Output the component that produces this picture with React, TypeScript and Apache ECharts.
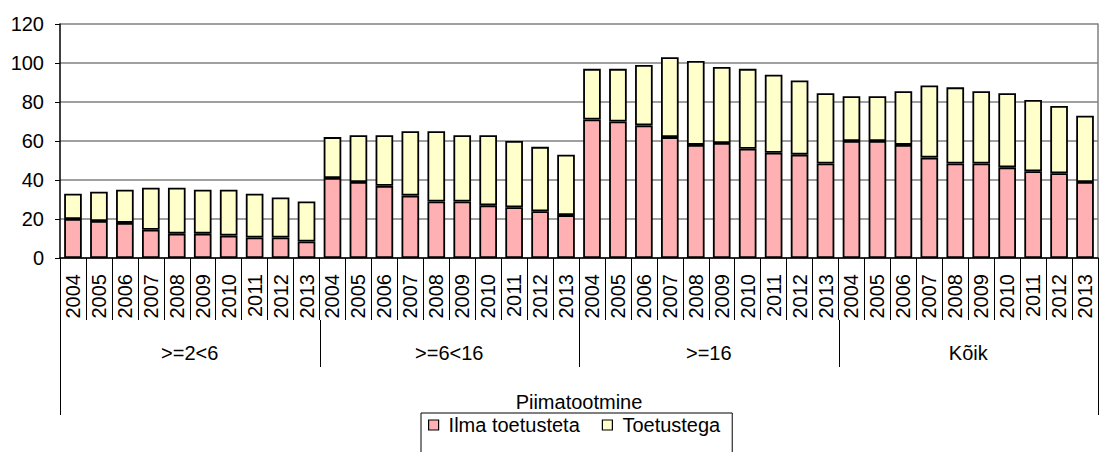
import React, { useEffect, useRef } from "react";
import * as echarts from "echarts";

const years = ["2004", "2005", "2006", "2007", "2008", "2009", "2010", "2011", "2012", "2013"];
const groups = [">=2<6", ">=6<16", ">=16", "Kõik"];
const topLabel = ["Piimatootmine"];
const seriesNames = ["Ilma toetusteta", "Toetustega"];

const ilmaToetusteta = [
  20, 19, 18, 14.5, 12.5, 12.5, 11.5, 10.5, 10.5, 8.5,
  41, 39, 37, 32, 29, 29, 27, 26, 24, 22,
  71, 70, 68, 62, 58, 59, 56, 54, 53, 48.5,
  60, 60, 58, 51.5, 48.5, 48.5, 46.5, 44.5, 43.5, 39,
];
const toetustega = [
  13, 15, 17, 21.5, 23.5, 22.5, 23.5, 22.5, 20.5, 20.5,
  21, 24, 26, 33, 36, 34, 36, 34, 33, 31,
  26, 27, 31, 41, 43, 39, 41, 40, 38, 36,
  23, 23, 27.5, 37, 39, 37, 38, 36.5, 34.5, 34,
];

const FONT = "'Liberation Sans', Arial, sans-serif";

export default function App() {
  const ref = useRef<HTMLDivElement>(null);
  useEffect(() => {
    if (!ref.current) return;
    const chart = echarts.init(ref.current, null, { renderer: "svg" });
    const categories: string[] = [];
    groups.forEach(() => years.forEach((y) => categories.push(y)));
    chart.setOption({
      animation: false,
      textStyle: { fontFamily: FONT },
      grid: { left: 60, right: 1, top: 24, bottom: 194 },
      legend: {
        left: 421,
        top: 413,
        data: seriesNames,
        orient: "horizontal",
        icon: "rect",
        itemWidth: 10,
        itemHeight: 10,
        itemGap: 22,
        padding: [2, 12, 20, 7],
        borderColor: "#000",
        borderWidth: 1,
        itemStyle: { borderColor: "#000", borderWidth: 1.2 },
        textStyle: { fontSize: 20, color: "#000", fontFamily: FONT, padding: [0, 0, 0, 5] },
      },
      xAxis: [
        {
          type: "category",
          data: categories,
          position: "bottom",
          boundaryGap: true,
          axisLine: { show: true, lineStyle: { color: "#000", width: 1.5 } },
          axisTick: { show: true, interval: 0, length: 62, lineStyle: { color: "#000", width: 1 } },
          axisLabel: { interval: 0, rotate: 90, fontSize: 20, color: "#000", margin: 16, fontFamily: FONT },
          splitLine: { show: false },
        },
        {
          type: "category",
          data: groups,
          position: "bottom",
          offset: 62,
          boundaryGap: true,
          axisLine: { show: false },
          axisTick: { show: false },
          axisLabel: { interval: 0, fontSize: 20, color: "#000", margin: 23, fontFamily: FONT },
        },
        {
          type: "category",
          data: topLabel,
          position: "bottom",
          offset: 109,
          boundaryGap: true,
          axisLine: { show: false },
          axisTick: { show: true, interval: 0, length: 48, lineStyle: { color: "#000", width: 1 } },
          axisLabel: { interval: 0, fontSize: 20, color: "#000", margin: 25, fontFamily: FONT },
        },
      ],
      yAxis: [
        {
          type: "value",
          min: 0,
          max: 120,
          interval: 20,
          axisLine: { show: true, lineStyle: { color: "#000", width: 1.5 } },
          axisTick: { show: true, length: 5, lineStyle: { color: "#000" } },
          axisLabel: { fontSize: 20, color: "#000", margin: 16, fontFamily: FONT, padding: [5, 0, 0, 0] },
          splitLine: { show: true, lineStyle: { color: "#808080", width: 1.5 } },
        },
        {
          type: "value",
          min: 0,
          max: 120,
          interval: 20,
          position: "right",
          axisLine: { show: true, lineStyle: { color: "#808080", width: 1.5 } },
          axisTick: { show: false },
          axisLabel: { show: false },
          splitLine: { show: false },
        },
      ],
      series: [
        {
          name: seriesNames[0],
          type: "bar",
          stack: "total",
          data: ilmaToetusteta,
          barCategoryGap: "32%",
          itemStyle: { color: "#FFB0B2", borderColor: "#000", borderWidth: 1.8 },
        },
        {
          name: seriesNames[1],
          type: "bar",
          stack: "total",
          data: toetustega,
          barCategoryGap: "32%",
          itemStyle: { color: "#FFFFCC", borderColor: "#000", borderWidth: 1.8 },
        },
      ],
    });

    // group separator lines derived from the category scale
    const x0 = chart.convertToPixel({ xAxisIndex: 0 }, 0) as number;
    const x1 = chart.convertToPixel({ xAxisIndex: 0 }, 1) as number;
    const band = x1 - x0;
    const yBase = chart.convertToPixel({ yAxisIndex: 0 }, 0) as number;
    const lines: any[] = [];
    for (let g = 0; g <= groups.length; g++) {
      const idx = g * years.length;
      const xc = chart.convertToPixel({ xAxisIndex: 0 }, Math.min(idx, categories.length - 1)) as number;
      const xb = idx >= categories.length ? xc + band / 2 : xc - band / 2;
      const x = Math.round(xb) + 0.5;
      lines.push({
        type: "line",
        shape: { x1: x, y1: yBase + 62, x2: x, y2: yBase + 109 },
        style: { stroke: "#000", lineWidth: 1 },
        silent: true,
      });
    }
    chart.setOption({ graphic: lines });
    return () => chart.dispose();
  }, []);
  return (
    <div
      ref={ref}
      style={{ position: "fixed", left: 0, top: 0, width: 1099, height: 452, background: "#fff" }}
    />
  );
}
